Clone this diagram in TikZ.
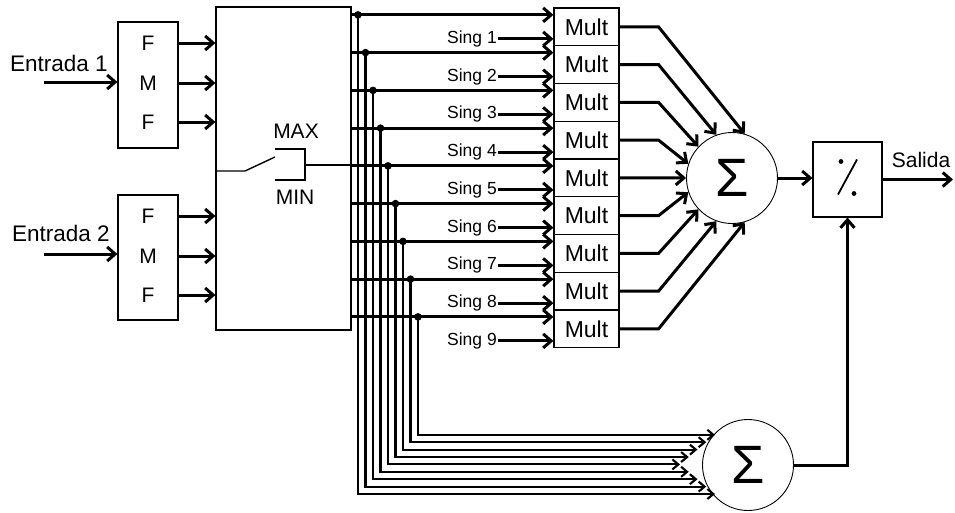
\documentclass[tikz,border=0pt]{standalone}
\usepackage{fontspec}
\setmainfont{Liberation Sans}
\usetikzlibrary{arrows.meta}

\begin{document}
\begin{tikzpicture}[
  x=1pt, y=-1pt,
  font=\fontsize{21}{25}\selectfont,
  blk/.style={draw, line width=1.1pt, inner sep=0pt},
  mult/.style={blk, minimum width=65pt, minimum height=37.75pt,
               font=\fontsize{23}{27}\selectfont},
  sum/.style={draw, line width=0.9pt, circle, minimum size=91pt, inner sep=0pt,
              font=\fontsize{54}{54}\selectfont},
  sing/.style={font=\fontsize{17.5}{20}\selectfont, inner sep=1pt, anchor=east},
  lbl/.style={font=\fontsize{22.5}{26}\selectfont, anchor=base west, inner sep=0pt},
  wire/.style={line width=1.4pt},
  arr/.style={line width=3pt, -{Straight Barb[length=8pt, width=14pt]}},
  barr/.style={line width=2.1pt, -{Straight Barb[length=6pt, width=10pt]}}
]
\useasboundingbox (0,0) rectangle (955,512);

% inputs and fuzzy blocks
\node[lbl] (ent1) at (10,71) {Entrada 1};
\node[lbl] (ent2) at (12,241) {Entrada 2};
\coordinate (in1) at (44,82);
\coordinate (in2) at (44,254);

\node[blk, minimum width=60pt, minimum height=126pt] (fmfa) at (148,85) {};
\node[blk, minimum width=60pt, minimum height=125pt] (fmfb) at (148,257.5) {};
\node (fa1) at (148,43) {F};
\node (fa2) at (148,83) {M};
\node (fa3) at (148,122) {F};
\node (fb1) at (148,216) {F};
\node (fb2) at (148,256) {M};
\node (fb3) at (148,295) {F};

\node[blk, minimum width=135pt, minimum height=323pt] (big) at (283.5,168.5) {};

\draw[arr] (in1) -- (in1 -| fmfa.west);
\draw[arr] (in2) -- (in2 -| fmfb.west);
\foreach \n in {fa1,fa2,fa3,fb1,fb2,fb3}
  \draw[arr] (\n -| fmfa.east) -- (\n -| big.west);

% max/min switch
\node (maxl) at (296,131) {MAX};
\node (minl) at (295,197) {MIN};
\draw[wire] (216,171) -- (245,171) -- (275,157);
\draw[wire] (275,149) -- (305,149) -- (305,180) -- (275,180);
\draw[wire] (305,165) -- (351,165);

% multipliers
\foreach \k in {1,...,9}{
  \pgfmathsetmacro\ym{26.875+37.75*(\k-1)}
  \node[mult] (m\k) at (586.5,\ym) {Mult};
  \node[sing] (s\k) at (498,{\ym+12}) {Sing \k};
  \draw[arr] (s\k.east) -- (s\k.east -| m\k.west);
}

\node[sum] (sum) at (732,178) {Σ};
\node[sum] (sumb) at (748,465) {Σ};
\node[blk, minimum width=69pt, minimum height=75pt] (div) at (847.5,179.5) {};
\draw[line width=1.8pt, shift={(div.center)}] (9.5,-20) -- (-9.5,15);
\fill[shift={(div.center)}] (-6.5,-18) circle (2.4) (6.5,14) circle (2.4);

\node (sal) at (921,160) {Salida};
\coordinate (out) at (953,179.5);

% bus to multipliers and lower sum
\foreach \k/\a in {1/74,2/110,3/137,4/162,5/180,6/198,7/223,8/250,9/286}{
  \pgfmathsetmacro\yb{14.875+37.75*(\k-1)}
  \pgfmathsetmacro\xv{358+7.5*(\k-1)}
  \pgfmathsetmacro\yl{494-7.4*(\k-1)}
  \pgfmathsetmacro\xt{680+8.75*abs(\k-5)}
  \draw[arr] (351,\yb) -- (m\k.west |- 0,\yb);
  \draw[barr] (\xv,\yb) |- (\xt,\yl);
  \fill (\xv,\yb) circle (3.8);
  \draw[arr] (m\k.east) -- ++(39,0) -- (sum.\a);
}

\draw[arr] (sum.east) -- (sum.east -| div.west);
\draw[arr] (div.east) -- (out);
\draw[arr] (sumb.east) -| (div.south);
\end{tikzpicture}
\end{document}
